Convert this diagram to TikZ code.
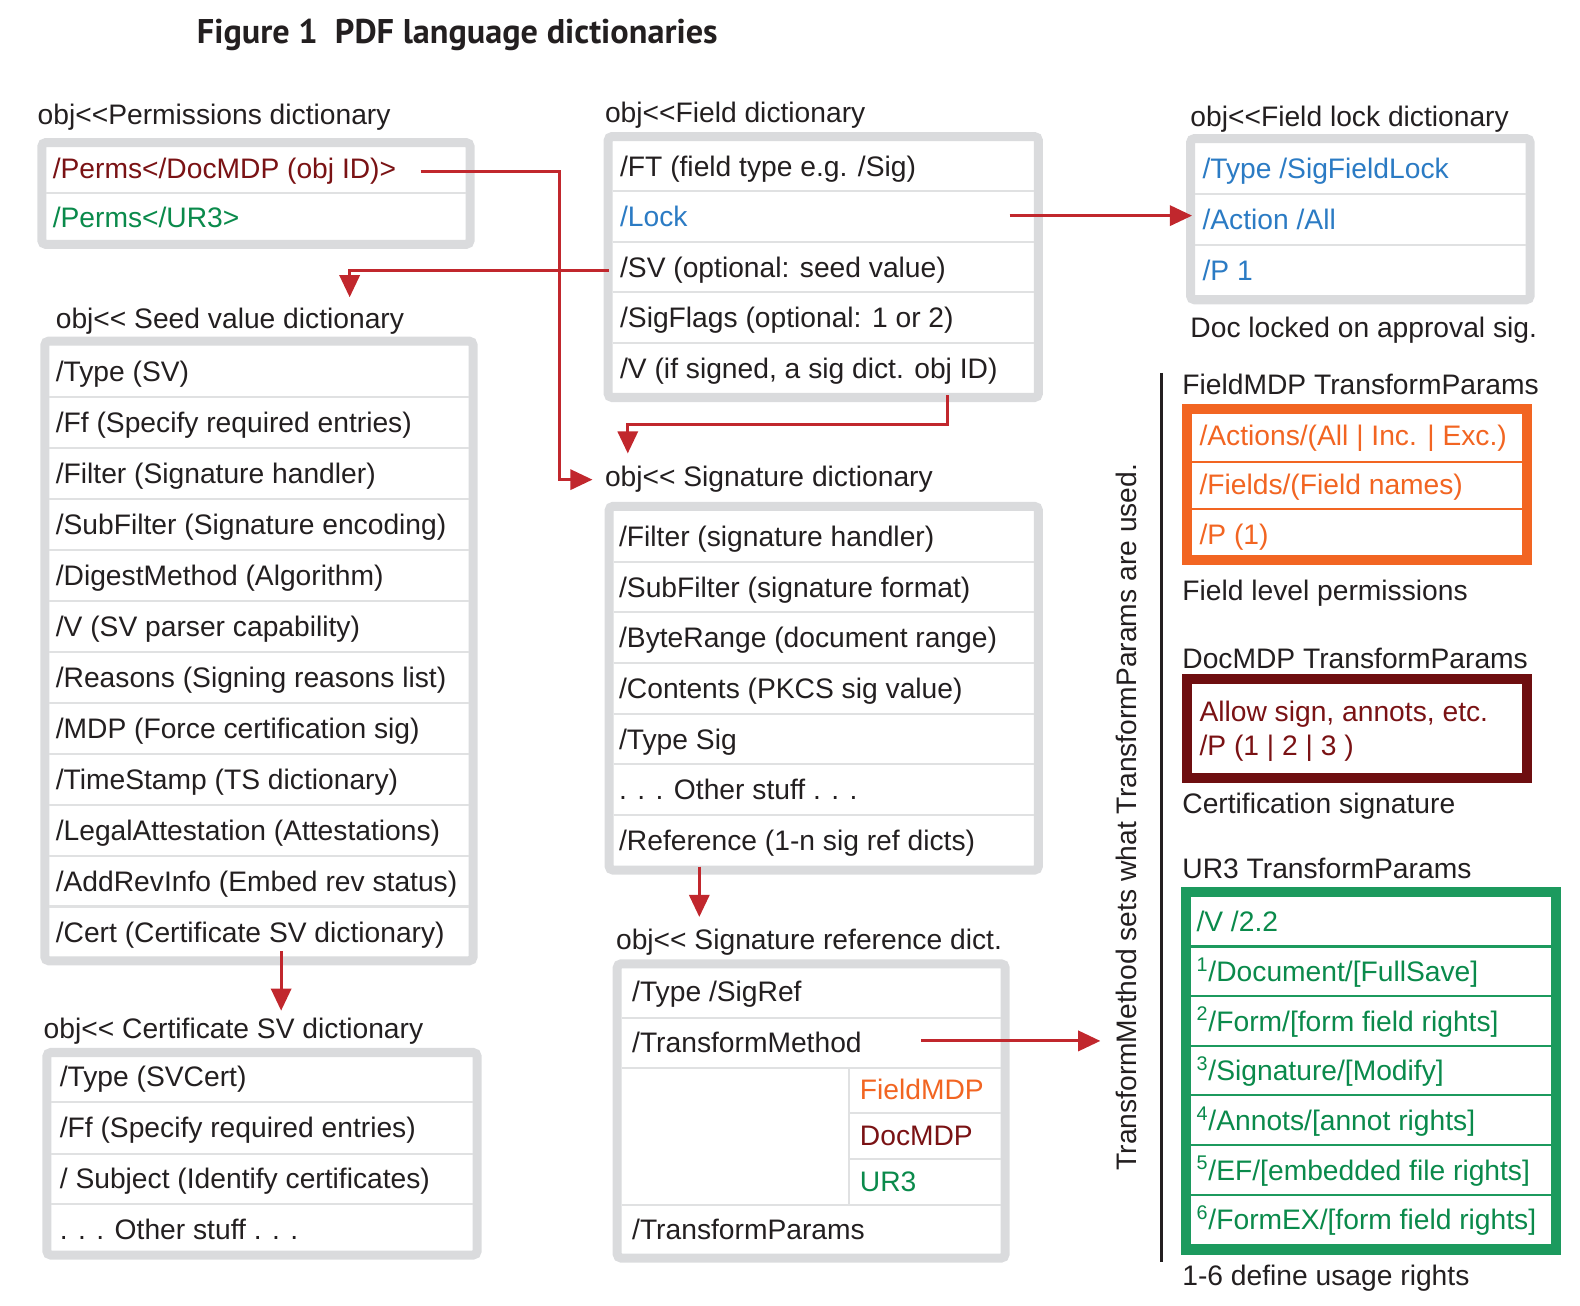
\documentclass[tikz,border=0pt]{standalone}
\usepackage{fontspec}
\setmainfont{Liberation Sans}
\newfontfamily\titlefont{PT Sans}
\usetikzlibrary{arrows.meta}
\definecolor{txtblack}{HTML}{231F20}
\definecolor{bordergray}{HTML}{DADBDD}
\definecolor{sepgray}{HTML}{E0E1E2}
\definecolor{arrred}{HTML}{C1272D}
\definecolor{dred}{HTML}{7A1214}
\definecolor{dredbox}{HTML}{6E0E10}
\definecolor{lblue}{HTML}{2B7BC4}
\definecolor{orng}{HTML}{F26522}
\definecolor{grn}{HTML}{0A8A4B}
\definecolor{grnbox}{HTML}{1C9A5E}
\newcommand{\dictbox}[5]{%
  \draw[gbox] (#1+4.5,#2+4.5) rectangle (#3-4.5,#4-4.5);
  \foreach \yy in {#5} \draw[gsep] (#1+9,\yy) -- (#3-9,\yy);
}
\tikzset{
  txt/.style={anchor=west, inner sep=0pt, text height=0.716em, text depth=0pt,
    font=\fontsize{14}{16}\selectfont, text=txtblack, yshift=-1.5pt},
  gbox/.style={draw=bordergray, line width=4.5pt, fill=white, rounded corners=2pt},
  gsep/.style={draw=sepgray, line width=1pt},
  arr/.style={draw=arrred, line width=1.5pt, -{Triangle[length=11pt,width=10pt]}},
}
\begin{document}
\begin{tikzpicture}[x=0.5pt,y=-0.5pt]
\useasboundingbox (0,0) rectangle (1568,1296);
% title
\node[anchor=west, inner sep=0pt, text height=0.68em, text depth=0pt,
  font=\titlefont\bfseries\fontsize{17}{19}\selectfont, text=txtblack] (title) at (195,36)
  {Figure 1\enspace PDF language dictionaries};

% ---------- Permissions dictionary
\node[txt] (permL) at (37,113) {obj<{}<Permissions dictionary};
\dictbox{37}{137}{471}{247}{192}
\node[txt, text=dred] (perm1) at (52,167) {/Perms</DocMDP (obj ID)>};
\node[txt, text=grn] (perm2) at (52,216) {/Perms</UR3>};

% ---------- Field dictionary
\node[txt] (fieldL) at (600,111) {obj<{}<Field dictionary};
\dictbox{599}{131}{1035}{399}{190,240,290,340}
\node[txt] (field1) at (615,165) {/FT (field type e.g. /Sig)};
\node[txt, text=lblue] (field2) at (615,215) {/Lock};
\node[txt] (field3) at (615,265) {/SV (optional: seed value)};
\node[txt] (field4) at (615,315) {/SigFlags (optional: 1 or 2)};
\node[txt] (field5) at (615,365) {/V (if signed, a sig dict. obj ID)};

% ---------- Field lock dictionary
\node[txt] (lockL) at (1181,115) {obj<{}<Field lock dictionary};
\dictbox{1177}{133}{1523}{302}{192.3,242.7}
\node[txt, text=lblue] (lock1) at (1193,167) {/Type /SigFieldLock};
\node[txt, text=lblue] (lock2) at (1193,218) {/Action /All};
\node[txt, text=lblue] (lock3) at (1193,268) {/P 1};
\node[txt] (lockC) at (1181,325) {Doc locked on approval sig.};

% ---------- Seed value dictionary
\node[txt] (seedL) at (55,316) {obj<{}< Seed value dictionary};
\dictbox{40}{334}{474}{958}{393.6,444.2,494.8,545.4,596,646.6,697.2,747.8,798.4,849,899.6}
\foreach \t [count=\i] in {/Type (SV), /Ff (Specify required entries), /Filter (Signature handler),
  /SubFilter (Signature encoding), /DigestMethod (Algorithm), /V (SV parser capability),
  /Reasons (Signing reasons list), /MDP (Force certification sig), /TimeStamp (TS dictionary),
  /LegalAttestation (Attestations), /AddRevInfo (Embed rev status), /Cert (Certificate SV dictionary)}
  \node[txt] (seed\i) at (55,342.9+50.6*\i-25.3) {\t};

% ---------- Certificate SV dictionary
\node[txt] (certL) at (43,1020) {obj<{}< Certificate SV dictionary};
\dictbox{42}{1040}{478}{1250}{1094,1145,1195}
\foreach \t [count=\i] in {/Type (SVCert), /Ff (Specify required entries),
  / Subject (Identify certificates), . . . Other stuff . . .}
  \node[txt] (cert\i) at (59,1017+50.7*\i) {\t};

% ---------- Signature dictionary
\node[txt] (sigL) at (600,473) {obj<{}< Signature dictionary};
\dictbox{600}{498}{1035}{868}{557.3,607.6,657.9,708.1,758.4,808.7}
\foreach \t [count=\i] in {/Filter (signature handler), /SubFilter (signature format),
  /ByteRange (document range), /Contents (PKCS sig value), /Type Sig,
  . . . Other stuff . . ., /Reference (1-n sig ref dicts)}
  \node[txt] (sig\i) at (614,507+50.3*\i-25.15) {\t};

% ---------- Signature reference dict
\node[txt] (refL) at (611,932) {obj<{}< Signature reference dict.};
\draw[gbox] (612.5,956.5) rectangle (997.5,1248.5);
\draw[gsep] (617,1010) -- (993,1010);
\draw[gsep] (617,1060) -- (993,1060);
\draw[gsep] (843,1105) -- (993,1105);
\draw[gsep] (843,1150) -- (993,1150);
\draw[gsep] (617,1196) -- (993,1196);
\draw[gsep] (843,1060) -- (843,1196);
\node[txt] (ref1) at (627,984) {/Type /SigRef};
\node[txt] (ref2) at (627,1034) {/TransformMethod};
\node[txt, text=orng] (ref3) at (853,1081) {FieldMDP};
\node[txt, text=dred] (ref4) at (853,1127) {DocMDP};
\node[txt, text=grn] (ref5) at (853,1172) {UR3};
\node[txt] (ref6) at (627,1220) {/TransformParams};

% ---------- right column
\draw[line width=1.5pt, draw=txtblack] (1153,370) -- (1153,1252);
\node[txt, anchor=center, rotate=90, yshift=1.5pt] (tmnote) at (1124,808)
  {TransformMethod sets what TransformParams are used.};

% FieldMDP
\node[txt] (fmdpL) at (1173,381) {FieldMDP TransformParams};
\draw[draw=orng, line width=5pt, fill=white] (1178,406) rectangle (1515,556);
\draw[draw=orng, line width=1pt] (1183,458) -- (1510,458);
\draw[draw=orng, line width=1pt] (1183,505) -- (1510,505);
\node[txt, text=orng] (fmdp1) at (1190,432) {/Actions/(All | Inc. | Exc.)};
\node[txt, text=orng] (fmdp2) at (1190,481) {/Fields/(Field names)};
\node[txt, text=orng] (fmdp3) at (1190,530) {/P (1)};
\node[txt] (fmdpC) at (1173,586) {Field level permissions};

% DocMDP
\node[txt] (dmdpL) at (1173,653) {DocMDP TransformParams};
\draw[draw=dredbox, line width=5pt, fill=white] (1178,674) rectangle (1515,772);
\node[txt, text=dred] (dmdp1) at (1190,706) {Allow sign, annots, etc.};
\node[txt, text=dred] (dmdp2) at (1190,740) {/P (1 | 2 | 3 )};
\node[txt] (dmdpC) at (1173,797) {Certification signature};

% UR3
\node[txt] (ur3L) at (1173,862) {UR3 TransformParams};
\draw[draw=grnbox, line width=5pt, fill=white] (1177,885) rectangle (1544,1240);
\foreach \yy in {939.3,988.6,1037.9,1087.1,1136.4,1185.7}
  \draw[draw=grnbox, line width=1pt] (1182,\yy) -- (1539,\yy);
\foreach \t [count=\i] in {/V /2.2, \textsuperscript{1}/Document/[FullSave],
  \textsuperscript{2}/Form/[form field rights], \textsuperscript{3}/Signature/[Modify],
  \textsuperscript{4}/Annots/[annot rights], \textsuperscript{5}/EF/[embedded file rights],
  \textsuperscript{6}/FormEX/[form field rights]}
  \node[txt, text=grn] (ur3\i) at (1187,890+49.3*\i-24.65) {\t};
\node[txt] (ur3C) at (1173,1266) {1-6 define usage rights};

% ---------- connectors
\coordinate (bEnd) at (347,295);
\coordinate (cStart) at (1002,214);
\coordinate (cEnd) at (1183,214);
\coordinate (dStart) at (940,392);
\coordinate (dEnd) at (623,450);
\coordinate (eStart) at (694,860);
\coordinate (eEnd) at (694,910);
\coordinate (fStart) at (279,944);
\coordinate (fEnd) at (279,1003);
\coordinate (gStart) at (914,1033);
\coordinate (gEnd) at (1092,1033);
\draw[arr] ([xshift=12pt]perm1.east) -- (555,170) |- ([xshift=-6pt]sigL.west);
\draw[arr] ([xshift=-5.5pt]field3.west) -| (bEnd);
\draw[arr] (cStart) -- (cEnd);
\draw[arr] (dStart) -- ++(0,29) -| (dEnd);
\draw[arr] (eStart) -- (eEnd);
\draw[arr] (fStart) -- (fEnd);
\draw[arr] (gStart) -- (gEnd);
\end{tikzpicture}
\end{document}
